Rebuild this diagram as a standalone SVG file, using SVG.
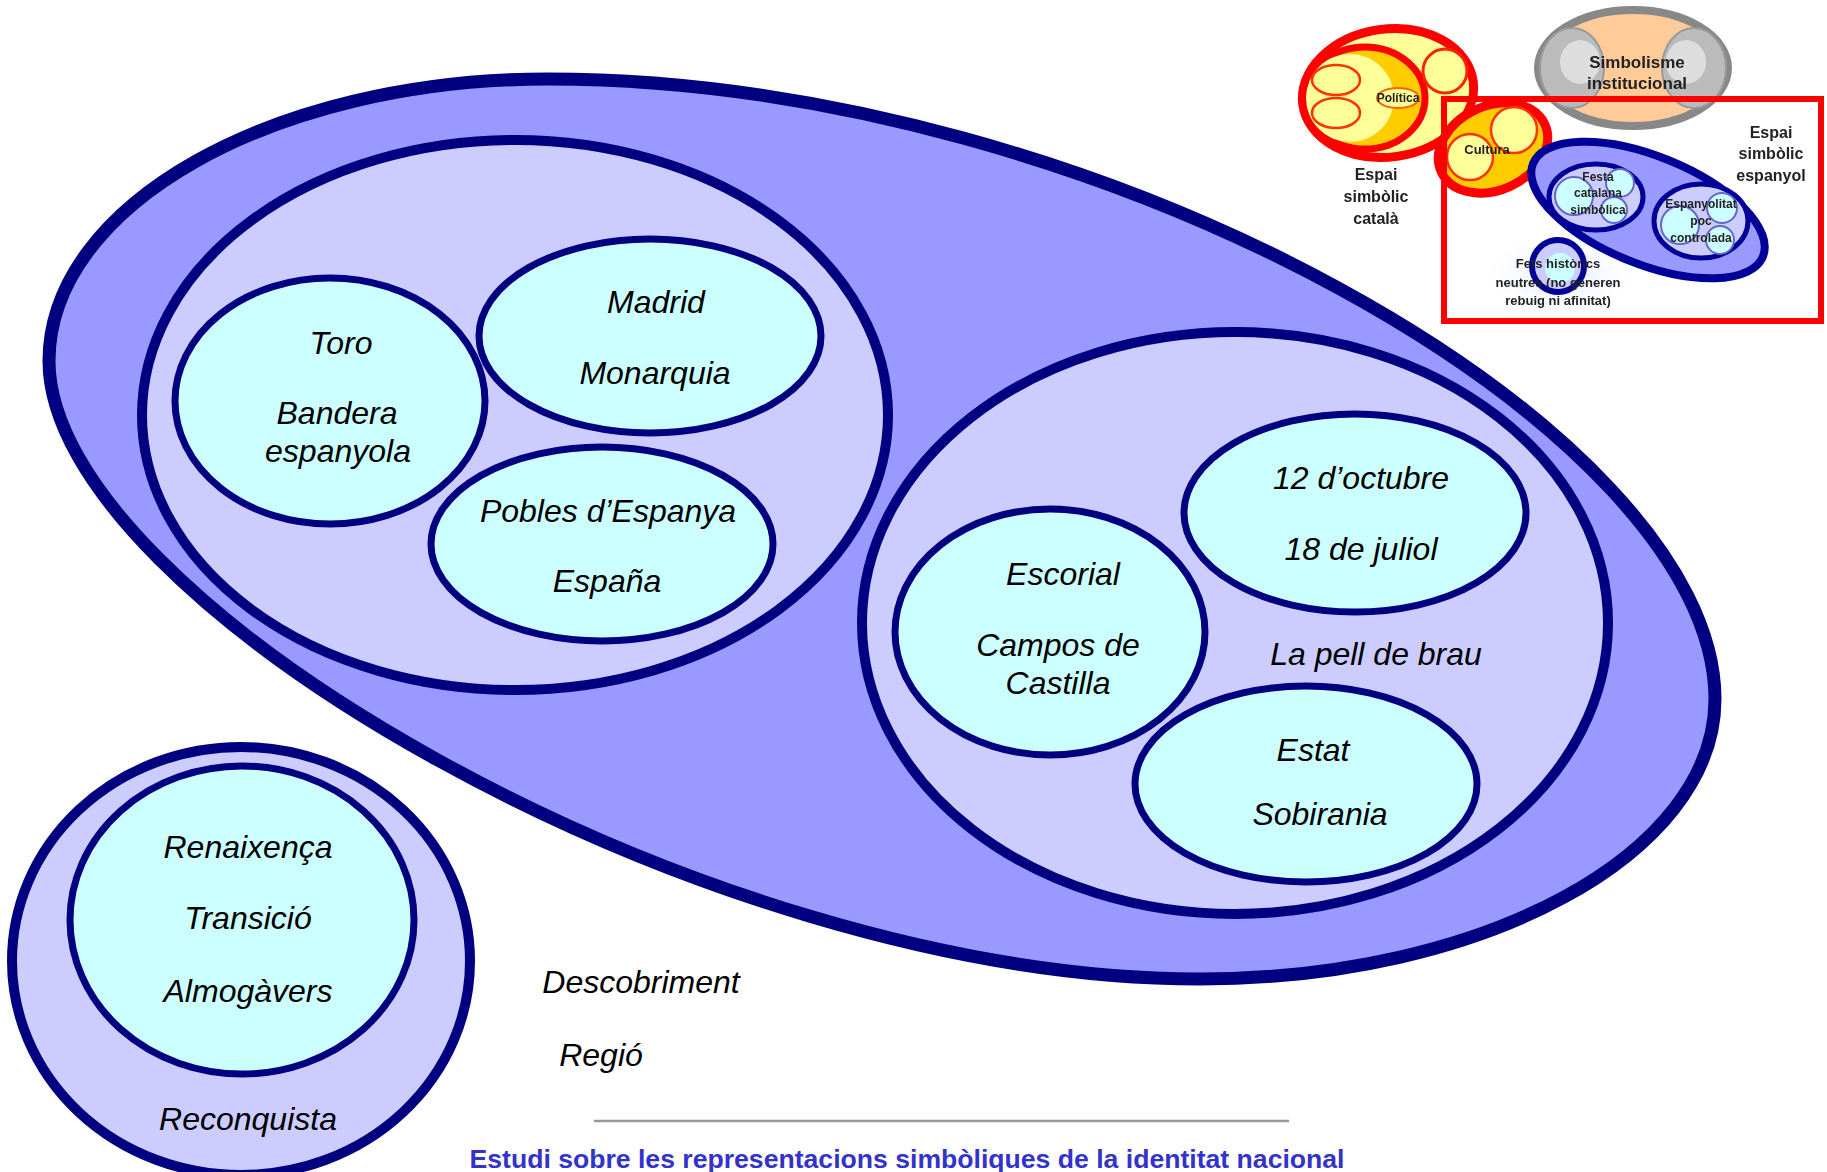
<svg xmlns="http://www.w3.org/2000/svg" width="1827" height="1172" viewBox="0 0 1827 1172">
<defs>
<style>
.big{fill:#9999FF;stroke:#000080;stroke-width:13}
.lav{fill:#CCCCFF;stroke:#000080;stroke-width:10}
.cy{fill:#CCFFFF;stroke:#000080;stroke-width:7}
.t{font-family:"Liberation Sans",Arial,sans-serif;font-style:italic;font-size:32px;fill:#000;text-anchor:middle}
.title{font-family:"Liberation Sans",Arial,sans-serif;font-weight:bold;font-size:26px;fill:#3333CC;text-anchor:middle}
.tb{font-family:"Liberation Sans",Arial,sans-serif;font-weight:bold;fill:#222;text-anchor:middle}
</style>
<filter id="soft" x="-5%" y="-5%" width="110%" height="110%"><feGaussianBlur stdDeviation="0.7"/></filter>
<radialGradient id="glow" cx="0.5" cy="0.5" r="0.5"><stop offset="0" stop-color="#DDE8FF"/><stop offset="1" stop-color="#FFFFFF" stop-opacity="0"/></radialGradient>
</defs>
<rect width="1827" height="1172" fill="#FFFFFF"/>

<g id="espai-espanyol">
<path class="big" d="M548,79 C1100,79 1715,430 1715,699 C1715,854 1484,979 1200,979 C700,979 49,600 49,361 C49,205 273,79 548,79 Z"/>
</g>

<g id="grup-esquerra">
<ellipse class="lav" cx="515" cy="415" rx="373" ry="275"/>
</g>
<g id="toro">
<ellipse class="cy" cx="330" cy="401" rx="155" ry="123"/>
<text class="t" x="341" y="354">Toro</text>
<text class="t" x="337" y="424">Bandera</text>
<text class="t" x="338" y="462">espanyola</text>
</g>
<g id="madrid">
<ellipse class="cy" cx="650" cy="336" rx="171" ry="97"/>
<text class="t" x="656" y="313">Madrid</text>
<text class="t" x="655" y="384">Monarquia</text>
</g>
<g id="pobles">
<ellipse class="cy" cx="602" cy="544" rx="171" ry="97"/>
<text class="t" x="608" y="522">Pobles d’Espanya</text>
<text class="t" x="607" y="592">España</text>
</g>

<g id="grup-dreta">
<ellipse class="lav" cx="1235" cy="623" rx="373" ry="291"/>
<text class="t" x="1376" y="665">La pell de brau</text>
</g>
<g id="escorial">
<ellipse class="cy" cx="1050" cy="632" rx="155" ry="123"/>
<text class="t" x="1063" y="585">Escorial</text>
<text class="t" x="1058" y="656">Campos de</text>
<text class="t" x="1058" y="694">Castilla</text>
</g>
<g id="octubre">
<ellipse class="cy" cx="1355" cy="513" rx="171" ry="99"/>
<text class="t" x="1361" y="489">12 d’octubre</text>
<text class="t" x="1361" y="560">18 de juliol</text>
</g>
<g id="estat">
<ellipse class="cy" cx="1306" cy="784" rx="171" ry="98"/>
<text class="t" x="1313" y="761">Estat</text>
<text class="t" x="1320" y="825">Sobirania</text>
</g>

<g id="reconquista">
<ellipse class="lav" cx="241" cy="961" rx="229" ry="214" stroke-width="12"/>
<text class="t" x="248" y="1130">Reconquista</text>
</g>
<g id="renaixenca">
<ellipse class="cy" cx="242" cy="920" rx="172" ry="154" stroke-width="10"/>
<text class="t" x="248" y="858">Renaixença</text>
<text class="t" x="248" y="929">Transició</text>
<text class="t" x="248" y="1002">Almogàvers</text>
</g>

<g id="solts">
<text class="t" x="641" y="993">Descobriment</text>
<text class="t" x="601" y="1066">Regió</text>
</g>

<g id="peu">
<line x1="594" y1="1121" x2="1289" y2="1121" stroke="#999999" stroke-width="2.5"/>
<text class="title" x="907" y="1168" textLength="875" lengthAdjust="spacingAndGlyphs">Estudi sobre les representacions simbòliques de la identitat nacional</text>
</g>

<g id="miniatura" filter="url(#soft)">
<ellipse cx="1560" cy="275" rx="85" ry="45" fill="url(#glow)"/>
<g id="mini-catala">
<ellipse cx="1388" cy="93" rx="86" ry="64" fill="#FFFF99" stroke="#FF0000" stroke-width="9" transform="rotate(-8 1388 93)"/>
<ellipse cx="1365" cy="98" rx="60" ry="51" fill="#FFCC00" stroke="#FF0000" stroke-width="7"/>
<ellipse cx="1350" cy="98" rx="44" ry="44" fill="#FFFF99"/>
<ellipse cx="1336" cy="80" rx="24" ry="15" fill="#FFFF99" stroke="#FF3300" stroke-width="2.5"/>
<ellipse cx="1336" cy="113" rx="24" ry="15" fill="#FFFF99" stroke="#FF3300" stroke-width="2.5"/>
<circle cx="1445" cy="71" r="22" fill="#FFFF99" stroke="#FF2200" stroke-width="3"/>
<ellipse cx="1398" cy="98" rx="21" ry="10" fill="#FFFF99" stroke="#FF6600" stroke-width="2"/>
<text class="tb" x="1398" y="102" font-size="12">Política</text>
<text class="tb" x="1376" y="180" font-size="16">Espai</text>
<text class="tb" x="1376" y="202" font-size="16">simbòlic</text>
<text class="tb" x="1376" y="224" font-size="16">català</text>
</g>
<g id="mini-cultura">
<ellipse cx="1493" cy="148" rx="57" ry="42" fill="#FFCC00" stroke="#FF0000" stroke-width="9" transform="rotate(-25 1493 148)"/>
<circle cx="1470" cy="157" r="23" fill="#FFFF99" stroke="#FF3300" stroke-width="2.5"/>
<circle cx="1514" cy="130" r="23" fill="#FFFF99" stroke="#FF3300" stroke-width="2.5"/>
<text class="tb" x="1487" y="154" font-size="13">Cultura</text>
</g>
<g id="mini-institucional">
<ellipse cx="1633" cy="68" rx="95" ry="58" fill="#FFCC99" stroke="#888888" stroke-width="8"/>
<ellipse cx="1572" cy="68" rx="32" ry="40" fill="#BBBBBB" stroke="#999999" stroke-width="2"/>
<ellipse cx="1694" cy="68" rx="32" ry="40" fill="#BBBBBB" stroke="#999999" stroke-width="2"/>
<ellipse cx="1580" cy="62" rx="20" ry="22" fill="#DDDDDD"/>
<ellipse cx="1686" cy="62" rx="20" ry="22" fill="#DDDDDD"/>
<text class="tb" x="1637" y="68" font-size="17">Simbolisme</text>
<text class="tb" x="1637" y="89" font-size="17">institucional</text>
</g>
<g id="mini-espanyol">
<ellipse cx="1648" cy="210" rx="124" ry="54" fill="#9999FF" stroke="#000099" stroke-width="8" transform="rotate(22 1648 210)"/>
<ellipse cx="1596" cy="197" rx="47" ry="33" fill="#CCCCFF" stroke="#000099" stroke-width="5"/>
<circle cx="1574" cy="196" r="19" fill="#CCFFFF" stroke="#6666CC" stroke-width="2"/>
<circle cx="1620" cy="183" r="14" fill="#CCFFFF" stroke="#6666CC" stroke-width="2"/>
<circle cx="1614" cy="210" r="13" fill="#CCFFFF" stroke="#6666CC" stroke-width="2"/>
<ellipse cx="1701" cy="221" rx="47" ry="37" fill="#CCCCFF" stroke="#000099" stroke-width="5"/>
<circle cx="1680" cy="225" r="19" fill="#CCFFFF" stroke="#6666CC" stroke-width="2"/>
<circle cx="1722" cy="208" r="15" fill="#CCFFFF" stroke="#6666CC" stroke-width="2"/>
<circle cx="1720" cy="240" r="14" fill="#CCFFFF" stroke="#6666CC" stroke-width="2"/>
<text class="tb" x="1598" y="181" font-size="12">Festa</text>
<text class="tb" x="1598" y="197" font-size="12">catalana</text>
<text class="tb" x="1598" y="214" font-size="12">simbòlica</text>
<text class="tb" x="1701" y="208" font-size="12">Espanyolitat</text>
<text class="tb" x="1701" y="225" font-size="12">poc</text>
<text class="tb" x="1701" y="242" font-size="12">controlada</text>
<circle cx="1558" cy="266" r="26" fill="#CCCCFF" stroke="#000099" stroke-width="6"/>
<circle cx="1560" cy="268" r="15" fill="#CCFFFF"/>
<text class="tb" x="1558" y="268" font-size="13">Fets històrics</text>
<text class="tb" x="1558" y="287" font-size="13">neutres (no generen</text>
<text class="tb" x="1558" y="305" font-size="13">rebuig ni afinitat)</text>
<text class="tb" x="1771" y="138" font-size="16">Espai</text>
<text class="tb" x="1771" y="159" font-size="16">simbòlic</text>
<text class="tb" x="1771" y="181" font-size="16">espanyol</text>
</g>
<rect x="1444" y="99" width="377" height="222" fill="none" stroke="#FF0000" stroke-width="6"/>
</g>
</svg>
